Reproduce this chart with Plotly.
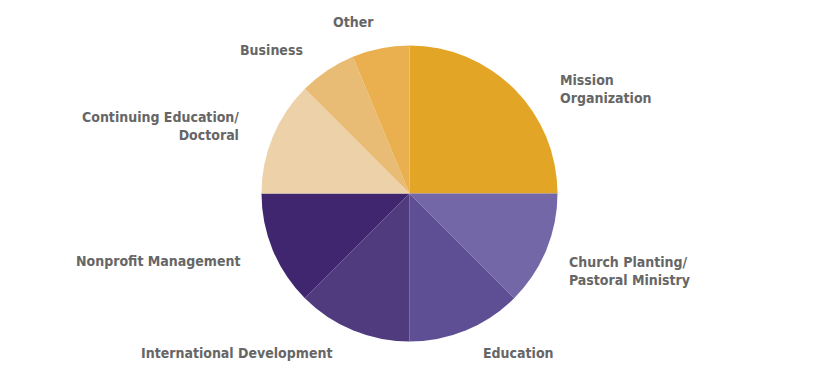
import plotly.graph_objects as go

labels = ["Mission Organization", "Church Planting/Pastoral Ministry", "Education",
          "International Development", "Nonprofit Management",
          "Continuing Education/Doctoral", "Business", "Other"]
values = [25, 12.5, 12.5, 12.5, 12.5, 12.5, 6.25, 6.25]
colors = ["#E3A526", "#7367A8", "#5E4E94", "#4F3B7E", "#40266F",
          "#EDD1A8", "#E8BC74", "#EAB04F"]

W, H = 830, 373
cx, cy, r = 409.5, 193.5, 148

fig = go.Figure(go.Pie(
    labels=labels, values=values, sort=False, direction="clockwise", rotation=0,
    marker=dict(colors=colors, line=dict(width=0)), textinfo="none", hoverinfo="label+percent",
    domain=dict(x=[(cx - r) / W, (cx + r) / W], y=[(H - cy - r) / H, (H - cy + r) / H]),
    showlegend=False,
))

font = dict(family="DejaVu Sans Condensed, sans-serif", size=14, color="#666666", weight="bold")
ann = [
    ("Other", 376, 22, "right"),
    ("Business", 305, 50, "right"),
    ("Continuing Education/<br>Doctoral", 241, 126, "right"),
    ("Mission<br>Organization", 558, 89, "left"),
    ("Church Planting/<br>Pastoral Ministry", 567, 271, "left"),
    ("Nonprofit Management", 243, 261, "right"),
    ("International Development", 334, 353, "right"),
    ("Education", 481, 353, "left"),
]
for t, x, y, a in ann:
    fig.add_annotation(text=t, x=x / W, y=(H - y) / H, xref="paper", yref="paper",
                       xanchor=a, yanchor="middle", align=a, showarrow=False, font=font)

fig.update_layout(width=W, height=H, margin=dict(l=0, r=0, t=0, b=0),
                  paper_bgcolor="white", plot_bgcolor="white")
fig.write_html("out.html")
